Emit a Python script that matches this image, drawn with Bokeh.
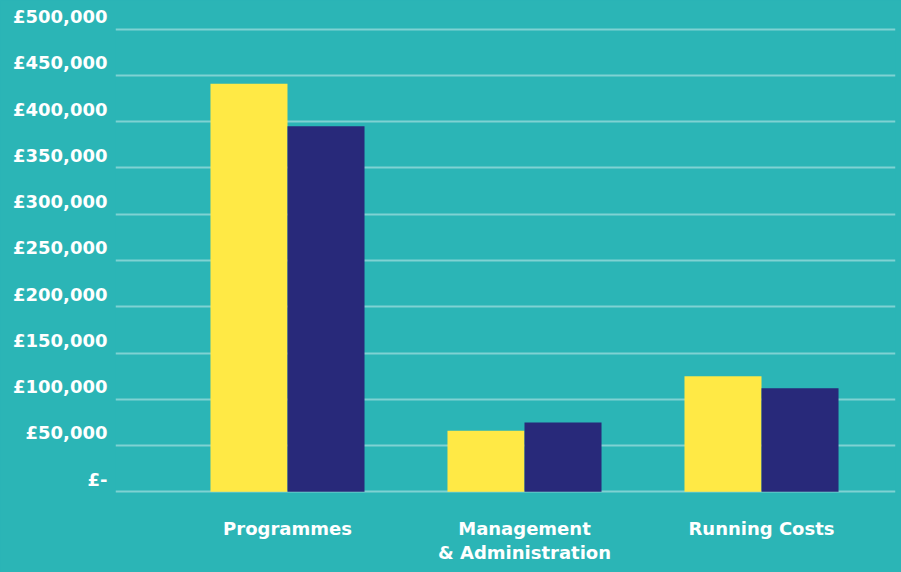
from bokeh.plotting import figure
from bokeh.models import ColumnDataSource, Range1d, FixedTicker
from bokeh.transform import dodge
from bokeh.embed import file_html
from bokeh.resources import INLINE

categories = ["Programmes", "Management\n& Administration", "Running Costs"]
series_a = [441000, 66000, 125000]   # yellow
series_b = [395000, 75000, 112000]   # navy
y_ticks = [0, 50000, 100000, 150000, 200000, 250000, 300000, 350000, 400000, 450000, 500000]
y_tick_labels = ["£-", "£50,000", "£100,000", "£150,000", "£200,000", "£250,000",
                 "£300,000", "£350,000", "£400,000", "£450,000", "£500,000"]

BG = "#2BB5B6"
YELLOW = "#FFE945"
NAVY = "#28297A"
FONT = "DejaVu Sans"

src = ColumnDataSource(dict(x=list(range(len(categories))), a=series_a, b=series_b))

# small padding on the value range so the first and last grid lines are not clipped
p = figure(width=901, height=572, output_backend="svg", toolbar_location=None,
           x_range=Range1d(-0.7257, 2.5654), y_range=Range1d(-1850, 501850),
           min_border_left=115, min_border_right=6, min_border_top=27, min_border_bottom=79)
p.background_fill_color = BG
p.border_fill_color = BG
p.outline_line_color = None

bw = 0.325
p.vbar(x=dodge("x", -bw / 2, range=p.x_range), top="a", width=bw, source=src,
       fill_color=YELLOW, line_color=None)
p.vbar(x=dodge("x", bw / 2, range=p.x_range), top="b", width=bw, source=src,
       fill_color=NAVY, line_color=None)

# y axis: a blank second line lifts each label above its grid line
p.yaxis.ticker = FixedTicker(ticks=y_ticks)
p.yaxis.major_label_overrides = {t: l + "\n " for t, l in zip(y_ticks, y_tick_labels)}
p.yaxis.axis_line_color = None
p.yaxis.major_tick_line_color = None
p.yaxis.minor_tick_line_color = None
p.yaxis.major_label_standoff = 2
p.yaxis.major_label_text_font = FONT
p.yaxis.major_label_text_font_style = "bold"
p.yaxis.major_label_text_font_size = "18px"
p.yaxis.major_label_text_line_height = 1.2
p.yaxis.major_label_text_color = "white"

# x axis
p.xaxis.ticker = FixedTicker(ticks=list(range(len(categories))))
p.xaxis.major_label_overrides = {i: c for i, c in enumerate(categories)}
p.xaxis.axis_line_color = None
p.xaxis.major_tick_line_color = None
p.xaxis.minor_tick_line_color = None
p.xaxis.major_label_standoff = 18
p.xaxis.major_label_text_font = FONT
p.xaxis.major_label_text_font_style = "bold"
p.xaxis.major_label_text_font_size = "18px"
p.xaxis.major_label_text_line_height = 1.15
p.xaxis.major_label_text_color = "white"

p.xgrid.grid_line_color = None
p.ygrid.grid_line_color = "white"
p.ygrid.grid_line_alpha = 0.4
p.ygrid.grid_line_width = 2

html = file_html(p, INLINE)
html = html.replace("<head>", "<head><style>html,body{background:%s;}</style>" % BG, 1)
open("out.html", "w").write(html)
